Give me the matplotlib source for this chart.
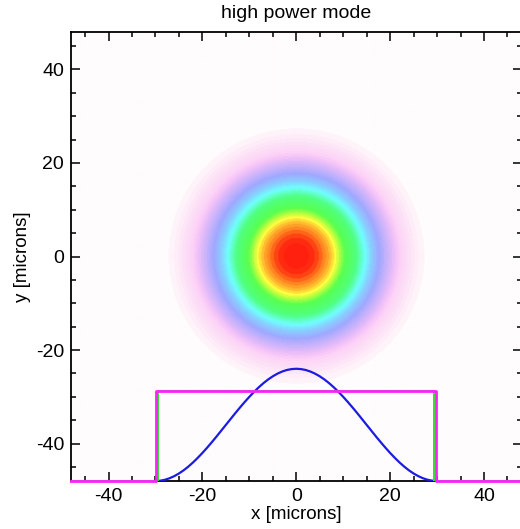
import numpy as np
import matplotlib
matplotlib.use("Agg")
import matplotlib.pyplot as plt
from matplotlib.colors import LinearSegmentedColormap

plt.rcParams['font.family'] = ['Liberation Sans', 'DejaVu Sans']
plt.rcParams['axes.unicode_minus'] = False

# beam cut along x (microns) and its height on the plot (y, microns)
prof_x = list(range(0, 31))
prof_y = [-24.00, -24.07, -24.26, -24.59, -25.04, -25.61, -26.29, -27.08,
          -27.97, -28.95, -30.00, -31.12, -32.29, -33.50, -34.75, -36.00,
          -37.25, -38.50, -39.71, -40.88, -42.00, -43.05, -44.03, -44.92,
          -45.71, -46.39, -46.96, -47.41, -47.74, -47.93, -48.00]

# aperture traces (half widths) and aperture level
aperture_half = 29.85
trans_half = 29.4
aperture_top = -28.8
baseline = -48.0

lim = 48

# full symmetric profile
px = np.array([-v for v in prof_x[::-1]] + prof_x[1:])
py = np.array(prof_y[::-1] + prof_y[1:])

# radial intensity map built from the measured cut
h = np.array(prof_y) - baseline
peak = h[0]
g = np.linspace(-lim, lim, 500)
X, Y = np.meshgrid(g, g)
R = np.sqrt(X**2 + Y**2)
I = np.interp(R, prof_x, h, right=0.0) / peak

cmap = LinearSegmentedColormap.from_list("beam", [
    (0.00, "#fffcfd"),
    (0.02, "#fff4fa"),
    (0.08, "#fde2f6"),
    (0.15, "#fcd2f8"),
    (0.18, "#f8c6f8"),
    (0.24, "#dcb8fa"),
    (0.36, "#a0a8ff"),
    (0.45, "#88d0ff"),
    (0.52, "#70ffff"),
    (0.62, "#50ff80"),
    (0.74, "#58ff50"),
    (0.79, "#b0ff40"),
    (0.83, "#ffff40"),
    (0.87, "#ffc030"),
    (0.92, "#ff8020"),
    (0.97, "#ff3010"),
    (1.00, "#ff2010"),
], N=48)

fig = plt.figure(figsize=(5.2, 5.29), dpi=100)
ax = fig.add_axes([0.1365, 0.0907, 0.8665, 0.8488])
ax.imshow(I, extent=[-lim, lim, -lim, lim], origin="lower", cmap=cmap,
          vmin=0, vmax=1, interpolation="bilinear", aspect="auto")

ax.plot(px, py, color="#1c1ce0", lw=1.6, zorder=3)
ax.plot([-lim, -trans_half, -trans_half, trans_half, trans_half, lim],
        [baseline, baseline, aperture_top, aperture_top, baseline, baseline],
        color="#30e030", lw=1.4, zorder=4)
ax.plot([-lim, -aperture_half, -aperture_half, aperture_half, aperture_half, lim],
        [baseline, baseline, aperture_top, aperture_top, baseline, baseline],
        color="#ff20ff", lw=2.0, zorder=5, clip_on=False)

ax.set_xlim(-lim, lim)
ax.set_ylim(-lim, lim)
ax.set_xticks([-40, -20, 0, 20, 40])
ax.set_yticks([-40, -20, 0, 20, 40])
ax.set_xticks(np.arange(-45, 50, 5), minor=True)
ax.set_yticks(np.arange(-45, 50, 5), minor=True)
ax.tick_params(which="both", direction="in", top=True, right=True,
               width=1.1, labelsize=14, pad=5)
ax.tick_params(which="major", length=6.5)
ax.tick_params(which="minor", length=3.5)
for s in ax.spines.values():
    s.set_linewidth(1.3)

ax.set_title("high power mode", fontsize=14, pad=10)
ax.set_xlabel("x [microns]", fontsize=13.5, labelpad=1)
ax.set_ylabel("y [microns]", fontsize=13.5, labelpad=3)

fig.savefig("out.png", dpi=100)
